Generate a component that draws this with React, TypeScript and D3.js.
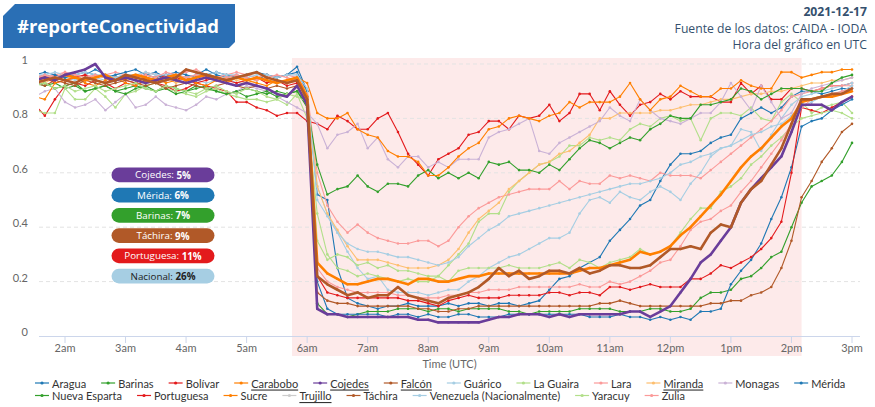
import React from "react";
import * as d3 from "d3";

const W = 875;
const H = 407;

// time grid: first sample at 1:30 (minutes after midnight), one sample every 10 minutes
const START_MIN = 90;
const STEP_MIN = 10;

const hourTicks = [120, 180, 240, 300, 360, 420, 480, 540, 600, 660, 720, 780, 840, 900];
const hourLabels = ["2am", "3am", "4am", "5am", "6am", "7am", "8am", "9am", "10am", "11am", "12pm", "1pm", "2pm", "3pm"];
const yTicks = [0, 0.2, 0.4, 0.6, 0.8, 1];
const yTickLabels = ["0", "0.2", "0.4", "0.6", "0.8", "1"];
const outageBand = [345, 850];

// values in percent
const aragua = [95,96,95,96,95,96,98,96,95,96, 95,96,97,95,96,95,96,98,96,95, 96,95,94,96,95,96,99,90,
  52,50,25,14,12,11, 10,11,11,12,11,11, 11,12,11,12,12,11, 12,12,11,12,13,17, 21,22,25,27,29,35, 39,43,48,50,57,63, 67,67,68,71,73,74, 80,82,84,82,84,88, 90,90,89,90,91,91];
const barinas = [93,92,93,91,92,90,91,92,90,91, 92,91,90,92,91,90,91,92,90,89, 90,91,90,89,90,89,90,84,
  12,8,8,7,8,9, 9,9,10,10,10,9, 10,10,9,10,10,10, 10,9,9,8,9,9, 9,9,10,10,10,10, 9,9,9,10,10,9, 9,10,14,16,16,17, 21,22,25,29,31,40, 49,55,57,59,64,71];
const bolivar = [85,81,87,92,93,92,94,93,91,93, 92,94,93,92,90,91,93,92,91,90, 86,86,84,83,81,82,82,79,
  78,76,81,79,76,76, 80,82,75,67,63,59, 65,67,69,74,75,79, 79,76,81,80,81,85, 79,82,89,89,83,90, 85,81,85,86,89,87, 90,88,88,88,86,86, 93,89,92,87,87,91, 91,90,91,92,92,93];
const carabobo = [94,95,94,96,95,94,95,96,94,95, 96,95,94,95,96,94,95,96,95,94, 95,94,95,94,93,94,95,88,
  27,23,21,19,19,20, 21,21,20,19,21,21, 20,20,21,22,22,23, 23,23,23,23,23,23, 23,23,24,25,25,26, 27,28,31,30,31,33, 37,40,44,48,52,57, 62,66,69,73,77,80, 86,87,88,88,89,90];
const cojedes = [94,95,94,96,97,98,100,95,94,95, 94,93,94,95,94,93,94,95,94,93, 92,93,92,91,89,88,92,85,
  10,8,8,7,7,7, 7,7,7,7,6,6, 5,5,5,5,5,6, 7,7,8,8,8,7, 8,7,8,8,8,8, 8,9,9,7,9,11, 16,21,27,30,35,40, 49,54,58,62,66,75, 85,85,85,83,86,88];
const falcon = [93,94,95,94,93,95,94,93,94,96, 95,94,93,94,95,98,97,96,95,94, 95,96,97,95,94,93,94,87,
  22,19,17,15,16,14, 15,15,18,15,14,13, 12,14,15,16,18,21, 25,22,24,21,22,24, 24,23,25,23,24,26, 26,25,25,26,29,32, 32,33,32,38,41,40, 49,54,57,63,69,78, 87,87,88,89,89,91];
const guarico = [96,95,96,95,94,96,95,94,95,96, 95,94,93,95,94,95,94,93,94,95, 93,94,95,94,93,94,95,88,
  55,45,38,31,25,21, 22,17,16,16,16,15, 16,17,17,20,22,25, 27,29,30,32,34,36, 36,38,45,50,51,49, 53,51,50,53,55,53, 50,56,60,66,69,70, 76,75,68,74,80,85, 88,89,90,91,92,93];
const laGuaira = [83,82,82,91,87,87,91,88,84,89, 90,92,93,91,90,89,88,90,91,89, 88,87,87,86,87,85,89,80,
  45,30,25,24,22,23, 22,21,20,21,20,20, 22,26,30,34,42,45, 45,53,57,60,63,64, 66,70,70,73,72,73, 72,76,78,77,80,81, 79,80,72,80,82,82, 81,84,80,79,86,89, 86,82,84,85,86,82];
const lara = [96,95,96,97,95,96,95,96,97,96, 95,97,96,95,96,97,98,96,95,96, 97,96,95,96,95,96,95,90,
  60,48,42,38,41,38, 36,35,34,34,35,35, 33,35,40,44,47,49, 51,52,53,54,54,54, 57,54,57,56,56,59, 58,59,58,57,60,59, 59,59,58,61,64,67, 70,73,76,79,83,88, 89,90,91,92,92,92];
const miranda = [94,93,95,94,96,95,94,93,95,94, 96,95,94,95,93,94,95,96,94,95, 94,93,94,95,94,93,94,90,
  55,45,39,33,28,28, 28,27,26,25,25,25, 26,28,32,38,43,46, 49,54,57,60,63,64, 67,68,71,74,80,80, 82,82,82,82,83,83, 84,85,85,86,87,87, 88,89,89,90,90,91, 92,93,93,94,94,95];
const monagas = [88,90,91,86,84,85,87,83,86,89, 84,85,88,85,84,83,85,88,87,89, 90,92,91,90,88,86,84,82,
  78,69,74,75,78,69, 73,65,62,66,66,62, 64,62,65,65,65,73, 75,76,78,80,68,67, 71,73,75,77,79,84, 81,79,87,83,80,79, 78,80,82,82,86,93, 88,83,92,86,80,82, 89,91,92,93,94,95];
const merida = [96,97,96,95,96,97,96,95,96,97, 98,96,95,96,97,96,95,96,97,96, 95,96,97,96,95,96,97,90,
  20,10,8,8,8,8, 8,7,8,8,7,8, 7,7,8,8,7,7, 7,8,8,8,8,8, 8,8,8,7,7,7, 8,7,7,6,7,6, 7,6,9,9,10,19, 24,28,34,43,51,62, 77,79,80,83,85,87];
const nuevaEsparta = [92,93,91,92,93,90,91,92,90,89, 91,92,90,91,89,90,92,91,90,89, 90,88,89,90,88,89,90,85,
  63,52,54,55,59,55, 53,56,56,55,59,61, 58,60,58,60,58,64, 63,64,61,61,60,63, 61,65,69,72,71,69, 71,73,72,76,78,81, 80,80,85,85,86,87, 91,90,87,89,91,91, 91,90,90,93,95,96];
const portuguesa = [94,95,93,94,95,96,94,93,95,94, 93,95,94,96,95,94,93,94,95,94, 93,94,95,93,94,92,93,88,
  22,16,15,14,14,14, 14,14,14,13,13,12, 11,13,14,15,14,14, 14,15,15,15,15,16, 16,15,16,16,15,18, 18,17,18,19,18,18, 18,21,21,23,26,25, 27,29,32,36,42,60, 84,83,82,84,86,88];
const sucre = [88,87,93,94,95,93,92,94,95,93, 92,94,95,93,94,95,93,92,94,93, 95,94,93,92,94,93,95,93,
  82,80,80,82,76,74, 73,68,66,66,64,59, 59,62,66,69,71,76, 77,80,81,80,79,81, 82,86,84,86,86,86, 88,93,87,83,87,88, 92,90,88,88,91,91, 94,92,91,91,97,97, 95,96,97,97,98,98];
const trujillo: number[] = [];
const tachira = [93,92,94,93,92,94,93,92,93,94, 93,92,93,91,92,93,92,91,92,93, 92,91,92,91,92,91,92,86,
  16,13,12,12,11,11, 11,11,11,11,10,10, 9,9,10,10,11,11, 11,11,11,11,11,11, 11,11,11,11,12,12, 13,12,11,11,11,11, 11,11,11,12,12,13, 13,15,16,18,25,35, 51,57,64,69,75,78];
const venezuela = [96,96,97,96,96,97,96,96,95,96, 96,97,96,96,96,95,96,96,97,96, 96,95,96,96,95,96,96,91,
  50,44,38,34,32,31, 31,30,29,29,28,27, 26,27,29,33,36,39, 41,44,45,46,47,48, 49,50,51,52,53,54, 55,56,56,57,58,60, 63,64,66,67,69,70, 72,74,75,77,78,81, 84,86,88,89,90,92];
const yaracuy = [92,93,91,92,90,91,92,90,91,92, 93,91,90,92,91,90,89,91,92,90, 89,91,90,88,87,89,88,86,
  35,28,30,29,26,27, 25,26,24,24,23,22, 22,20,24,25,25,25, 25,26,25,25,25,26, 27,25,28,27,25,27, 28,29,32,30,31,33, 38,43,47,47,53,55, 58,63,66,70,73,77, 80,81,82,83,82,80];
const zulia = [95,96,95,97,96,95,96,95,94,96, 95,96,95,97,96,95,96,95,94,95, 96,95,94,95,96,95,94,89,
  25,20,18,17,16,16, 16,16,15,15,14,14, 14,15,15,16,16,17, 17,17,18,18,18,18, 18,18,19,18,18,20, 19,20,22,24,27,28, 33,39,42,43,46,48, 53,57,62,67,72,78, 84,87,88,89,90,91];

const seriesNames = ["Aragua", "Barinas", "Bolívar", "Carabobo", "Cojedes", "Falcón", "Guárico", "La Guaira", "Lara", "Miranda", "Monagas", "Mérida",
  "Nueva Esparta", "Portuguesa", "Sucre", "Trujillo", "Táchira", "Venezuela (Nacionalmente)", "Yaracuy", "Zulia"];
const seriesValues = [aragua, barinas, bolivar, carabobo, cojedes, falcon, guarico, laGuaira, lara, miranda, monagas, merida,
  nuevaEsparta, portuguesa, sucre, trujillo, tachira, venezuela, yaracuy, zulia];
const seriesColors = ["#1f78b4", "#33a02c", "#e31a1c", "#ff7f00", "#6a3d9a", "#b15928", "#a6cee3", "#b2df8a", "#fb9a99", "#fdbf6f", "#cab2d6", "#1f78b4",
  "#33a02c", "#e31a1c", "#ff7f00", "#cccccc", "#b15928", "#a6cee3", "#b2df8a", "#fb9a99"];
const thickSeries = ["Carabobo", "Cojedes", "Falcón"];
const underlinedSeries = ["Carabobo", "Cojedes", "Falcón", "Miranda", "Trujillo"];
const legendRowBreak = 12;

const pillNames = ["Cojedes", "Mérida", "Barinas", "Táchira", "Portuguesa", "Nacional"];
const pillValues = ["5%", "6%", "7%", "9%", "11%", "26%"];
const pillColors = ["#6a3d9a", "#1f78b4", "#33a02c", "#b15928", "#e31a1c", "#a6cee3"];
const pillTextColors = ["#fff", "#fff", "#fff", "#fff", "#fff", "#222"];

const titleText = "#reporteConectividad";
const infoLines = ["2021-12-17", "Fuente de los datos: CAIDA - IODA", "Hora del gráfico en UTC"];

let canvasCtx: CanvasRenderingContext2D | null = null;
function textWidth(t: string, font: string) {
  if (!canvasCtx) canvasCtx = document.createElement("canvas").getContext("2d");
  canvasCtx!.font = font;
  return canvasCtx!.measureText(t).width;
}

export default function App() {
  const plotLeft = 39, plotRight = 860, plotBottom = 336;
  const x = d3.scaleLinear().domain([120, 900]).range([65, 852]);
  const y = d3.scaleLinear().domain([0, 1]).range([336, 64]);
  const tOf = (i: number) => START_MIN + STEP_MIN * i;

  const line = d3.line<number>().x((_, i) => x(tOf(i))).y((d) => y(d / 100));

  const order = seriesNames.map((_, i) => i).filter((i) => seriesValues[i].length > 0);
  const drawOrder = [...order.filter((i) => !thickSeries.includes(seriesNames[i])), ...order.filter((i) => thickSeries.includes(seriesNames[i]))];

  const legendFont = "11px Lato";
  const legendItems: { i: number; x: number; y: number }[] = [];
  let lx = 35;
  seriesNames.forEach((n, i) => {
    if (i === legendRowBreak) lx = 35;
    const ly = i < legendRowBreak ? 383 : 395.5;
    legendItems.push({ i, x: lx, y: ly });
    lx += 17 + textWidth(n, legendFont) + 15;
  });

  const pillY = d3.scaleBand<number>().domain(pillNames.map((_, i) => i)).range([167.5, 283.5]).paddingInner(0.27);

  return (
    <svg width={W} height={H} style={{ display: "block", position: "absolute", left: 0, top: 0 }} fontFamily="Lato, sans-serif">
      <defs>
        <clipPath id="plotclip">
          <rect x={plotLeft} y={40} width={plotRight - plotLeft} height={plotBottom - 40 + 4} />
        </clipPath>
      </defs>
      <rect width={W} height={H} fill="#fff" />
      {/* outage band */}
      <rect x={x(outageBand[0])} y={58} width={x(outageBand[1]) - x(outageBand[0])} height={298} fill="#fdeaea" />
      {/* grid */}
      {yTicks.map((t, k) =>
        t > 0 ? (
          <line key={k} x1={plotLeft} x2={plotRight} y1={y(t)} y2={y(t)} stroke="#e3e3e3" strokeDasharray="4,3" />
        ) : null
      )}
      {yTicks.map((t, k) => (
        <text key={"yl" + k} x={28} y={y(t)} textAnchor="end" fontSize={11} fill="#666">
          {yTickLabels[k]}
        </text>
      ))}
      {/* x axis */}
      <line x1={plotLeft} x2={plotRight} y1={plotBottom + 0.5} y2={plotBottom + 0.5} stroke="#ccd6eb" />
      {hourTicks.map((t, k) => (
        <g key={"xt" + k}>
          <line x1={x(t)} x2={x(t)} y1={plotBottom} y2={plotBottom + 7} stroke="#ccd6eb" />
          <text x={x(t)} y={352} textAnchor="middle" fontSize={11} fill="#666">
            {hourLabels[k]}
          </text>
        </g>
      ))}
      <text x={(plotLeft + plotRight) / 2} y={368} textAnchor="middle" fontSize={11} fill="#666">
        Time (UTC)
      </text>
      {/* series */}
      <g clipPath="url(#plotclip)">
        {drawOrder.map((i) => {
          const thick = thickSeries.includes(seriesNames[i]);
          return (
            <g key={"s" + i}>
              <path d={line(seriesValues[i]) || ""} fill="none" stroke={seriesColors[i]} strokeWidth={thick ? 2.6 : 1.1} strokeLinejoin="round" />
              {seriesValues[i].map((v, j) => (
                <circle key={j} cx={x(tOf(j))} cy={y(v / 100)} r={thick ? 1.2 : 1.3} fill={seriesColors[i]} />
              ))}
            </g>
          );
        })}
      </g>
      {/* pills */}
      {pillNames.map((n, k) => {
        const py = pillY(k)!;
        const h = pillY.bandwidth();
        return (
          <g key={"p" + k}>
            <rect x={111.5} y={py} width={103} height={h} rx={h / 2} fill={pillColors[k]} />
            <text x={163} y={py + h / 2} dominantBaseline="central" textAnchor="middle" fontFamily="'Open Sans', sans-serif" fontSize={9.8} fill={pillTextColors[k]}>
              {n + ": "}
              <tspan fontWeight="bold">{pillValues[k]}</tspan>
            </text>
          </g>
        );
      })}
      {/* legend */}
      {legendItems.map(({ i, x: ix, y: iy }) => (
        <g key={"l" + i}>
          <line x1={ix} x2={ix + 14} y1={iy} y2={iy} stroke={seriesColors[i]} strokeWidth={1.2} />
          <circle cx={ix + 7} cy={iy} r={1.6} fill={seriesColors[i]} />
          <text x={ix + 17} y={iy} dominantBaseline="central" fontSize={11} fill="#333" textDecoration={underlinedSeries.includes(seriesNames[i]) ? "underline" : undefined}>
            {seriesNames[i]}
          </text>
        </g>
      ))}
      {/* header badge */}
      <path d="M15,4 L235,4 L235,42 L229,48 L3,48 L3,16 Z" fill="#2a6fb5" />
      <text x={17} y={33} fontFamily="'Open Sans', sans-serif" fontWeight="bold" fontSize={18.5} fill="#fff">
        {titleText}
      </text>
      {infoLines.map((t, k) => (
        <text key={"i" + k} x={867} y={16 + k * 16.5} textAnchor="end" fontFamily="'Open Sans', sans-serif" fontSize={12.2} fontWeight={k === 0 ? "bold" : "normal"} fill="#34506e">
          {t}
        </text>
      ))}
    </svg>
  );
}
